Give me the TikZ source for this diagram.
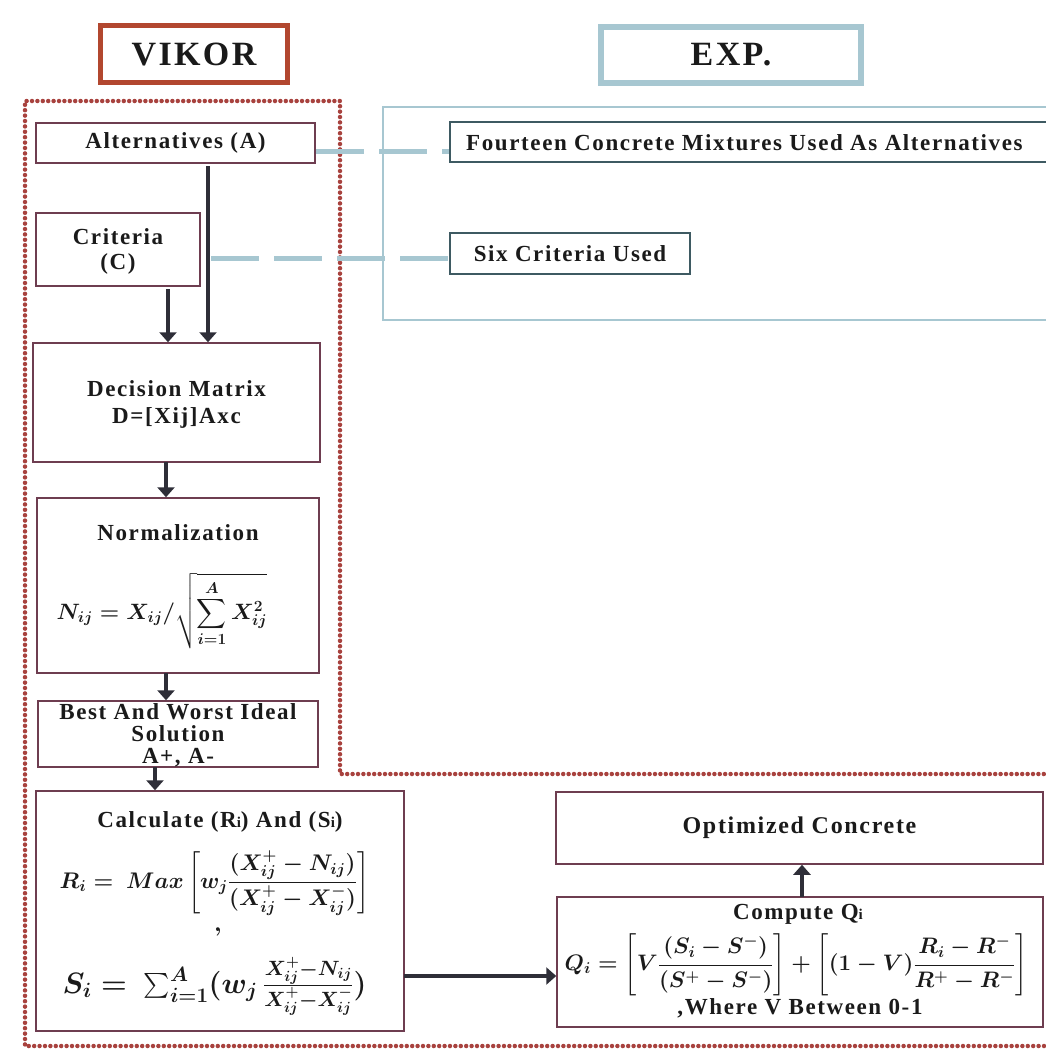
\RequirePackage{fix-cm}
\documentclass[tikz,border=0pt]{standalone}
\usepackage{fontspec}
\usepackage{amsmath}
\setmainfont{Liberation Serif}
\newfontfamily\lbl[LetterSpace=7]{Liberation Serif}
\usetikzlibrary{arrows.meta}
\definecolor{dotred}{HTML}{A8423E}
\definecolor{vikred}{HTML}{B2472F}
\definecolor{expblue}{HTML}{A7C7D1}
\definecolor{boxline}{HTML}{6E3D50}
\definecolor{expline}{HTML}{3E5A62}
\definecolor{arrowc}{HTML}{2E2E38}
\definecolor{txt}{HTML}{1A1A1A}
\newcommand{\bmat}[1]{{\boldmath$#1$}}
\begin{document}
\begin{tikzpicture}[x=1pt,y=-1pt,
  every node/.style={text=txt},
  box/.style={draw=boxline, line width=1.5pt, fill=white, inner sep=0pt},
  ebox/.style={draw=expline, line width=1.5pt, fill=white, inner sep=0pt},
  lab/.style={font=\lbl\bfseries\fontsize{23}{22}\selectfont, align=center, inner sep=0pt},
  frm/.style={inner sep=0pt},
  arr/.style={draw=arrowc, line width=3.8pt, -{Triangle[width=17pt,length=10pt]}},
  dashcon/.style={draw=expblue, line width=5pt, dash pattern=on 48pt off 15pt},
  dotline/.style={draw=dotred, line width=4.5pt, line cap=round, dash pattern=on 0pt off 5.4pt}]
\useasboundingbox (0,0) rectangle (1046,1053);
\clip (0,0) rectangle (1046,1053);
\fill[white] (0,0) rectangle (1046,1053);

% headers
\node[draw=vikred, line width=5pt, minimum width=187pt, minimum height=57pt, inner sep=0pt,
      font=\lbl\bfseries\fontsize{34}{34}\selectfont] (vikor) at (194,54) {VIKOR};
\node[draw=expblue, line width=6pt, minimum width=260pt, minimum height=56pt, inner sep=0pt,
      font=\lbl\bfseries\fontsize{34}{34}\selectfont] (exp) at (731,55) {EXP.};

% frames
\draw[dotline] (1060,774) -- (340,774) -- (340,101) -- (25,101) -- (25,1046) -- (1060,1046);
\draw[expblue, line width=2.5pt] (1060,107) -- (383,107) -- (383,320) -- (1060,320);

% VIKOR column
\node[box, minimum width=279pt, minimum height=40pt] (alt) at (175.5,143) {};
\node[lab] (altt) at (alt.center) {Alternatives (A)};
\node[box, minimum width=164pt, minimum height=73pt] (crit) at (118,249.5) {};
\node[lab] (critt) at (118,251) {Criteria\\[3pt](C)};
\node[box, minimum width=287pt, minimum height=119pt] (dm) at (176.5,402.5) {};
\node[lab] (dmt) at (176.5,404) {Decision Matrix\\[5pt]D=[Xij]Axc};
\node[box, minimum width=282pt, minimum height=175pt] (norm) at (178,585.5) {};
\node[lab] (normt) at (178,533) {Normalization};
\node[frm, font=\fontsize{22.2}{26}\selectfont] (normf) at (162,611) {\bmat{\displaystyle N_{ij}=X_{ij}/\sqrt{\sum_{i=1}^{A}X_{ij}^{2}}}};
\node[box, minimum width=280pt, minimum height=66pt] (best) at (178,734) {};
\node[lab] (bestt) at (178,735) {Best And Worst Ideal\\Solution\\A+, A-};
\node[box, minimum width=368pt, minimum height=240pt] (calc) at (220,911) {};
\node[lab] (calct) at (220,822) {Calculate (R{\fontsize{15}{15}\selectfont i}) And (S{\fontsize{15}{15}\selectfont i})};
\node[frm, font=\fontsize{22.6}{27}\selectfont] (calcr) at (214.5,883) {\bmat{\displaystyle R_i=\ Max\left[w_j\frac{(X_{ij}^{+}-N_{ij})}{(X_{ij}^{+}-X_{ij}^{-})}\right]}};
\node[frm, font=\fontsize{24}{28}\selectfont] (calcc) at (218,932) {\bmat{,}};
\node[frm, font=\fontsize{29.5}{33}\selectfont] (calcs) at (214.5,986) {\bmat{\textstyle S_i=\ \sum_{i=1}^{A}(w_j\,\frac{X_{ij}^{+}-N_{ij}}{X_{ij}^{+}-X_{ij}^{-}})}};

% EXP side
\node[ebox, minimum width=620pt, minimum height=40pt] (four) at (760,142) {};
\node[lab, anchor=west] (fourt) at (466,143) {Fourteen Concrete Mixtures Used As Alternatives};
\node[ebox, minimum width=240pt, minimum height=41pt] (six) at (570,253.5) {};
\node[lab] (sixt) at (six.center) {Six Criteria Used};

% result side
\node[box, minimum width=487pt, minimum height=72pt] (opt) at (799.5,828) {};
\node[lab, font=\lbl\bfseries\fontsize{24}{24}\selectfont] (optt) at (opt.center) {Optimized Concrete};
\node[box, minimum width=486pt, minimum height=130pt] (q) at (800,962) {};
\node[lab] (qt) at (798,914) {Compute Q{\fontsize{15}{15}\selectfont i}};
\node[frm, font=\fontsize{22.4}{27}\selectfont] (qf) at (796,965) {\bmat{\displaystyle Q_i=\left[V\frac{(S_i-S^{-})}{(S^{+}-S^{-})}\right]+\left[(1-V)\frac{R_i-R^{-}}{R^{+}-R^{-}}\right]}};
\node[lab] (qw) at (800,1008) {,Where V Between 0-1};

% connectors
\coordinate (a1) at (208,166);
\coordinate (c1) at (168,289);
\draw[arr] (a1) -- (a1 |- dm.north);
\draw[arr] (c1) -- (c1 |- dm.north);
\coordinate (m1) at (166,462);
\draw[arr] (m1) -- (m1 |- norm.north);
\coordinate (m2) at (166,673);
\draw[arr] (m2) -- (m2 |- best.north);
\coordinate (m3) at (155,767);
\draw[arr] (m3) -- (m3 |- calc.north);
\coordinate (m4) at (404,976);
\draw[arr] (m4) -- (m4 -| q.west);
\coordinate (m5) at (802,897);
\draw[arr] (m5) -- (m5 |- opt.south);
\coordinate (d1) at (316,151);
\draw[dashcon] (d1) -- (d1 -| four.west);
\coordinate (d2) at (211,258);
\draw[dashcon] (d2) -- (d2 -| six.west);
\end{tikzpicture}
\end{document}
